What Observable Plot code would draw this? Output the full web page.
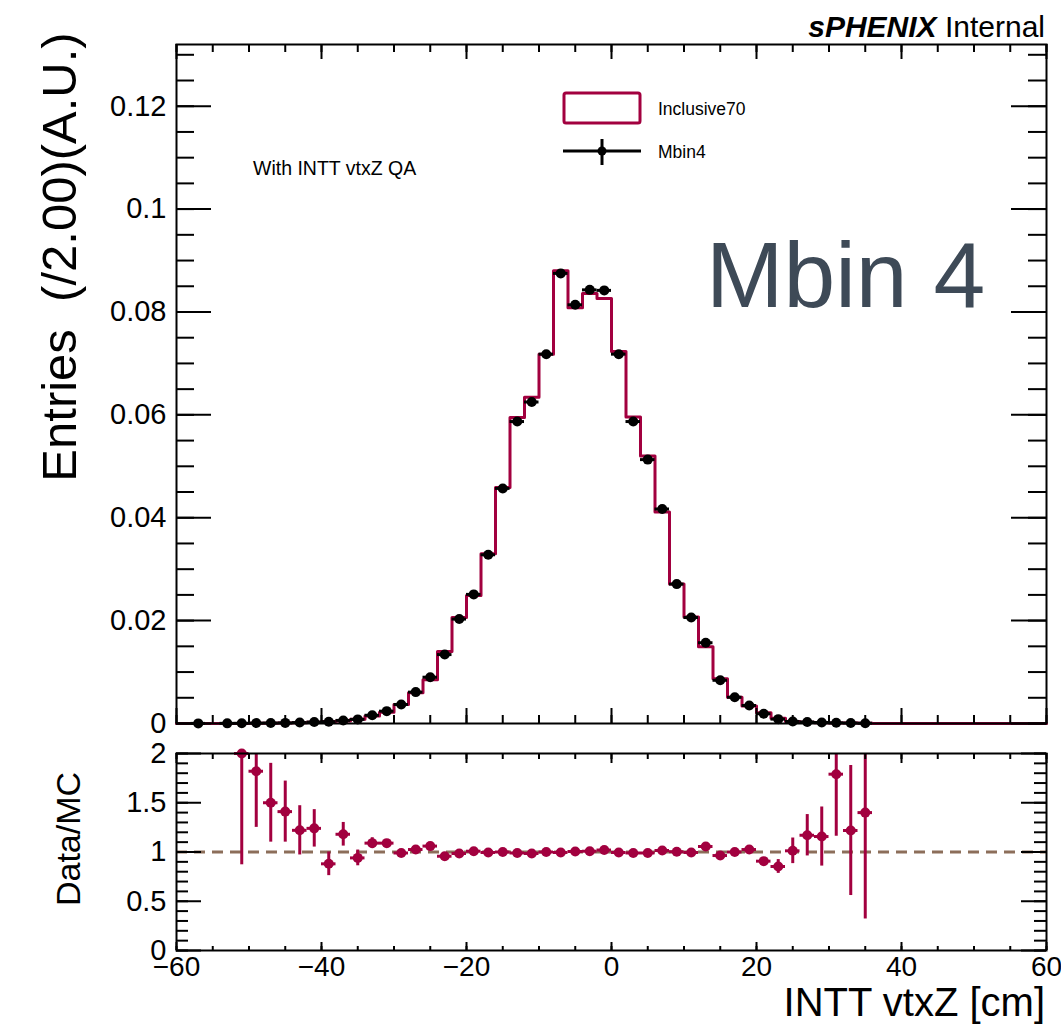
<!DOCTYPE html>
<html>
<head>
<meta charset="utf-8">
<script src="https://cdn.jsdelivr.net/npm/d3@7"></script>
<script src="https://cdn.jsdelivr.net/npm/@observablehq/plot@0.6"></script>
<style>
  body { margin: 0; background: #fff; }
  #wrap { position: relative; width: 1061px; height: 1026px; overflow: hidden; background: #fff;
          font-family: "Liberation Sans", Arial, Helvetica, sans-serif; }
  #wrap svg { position: absolute; left: 0; overflow: visible; }
</style>
</head>
<body>
<div id="wrap"></div>
<script>
// ---------------- data ----------------
// Mbin4 data points (bin centres, normalised entries)
const dataX = [-57, -53, -51, -49, -47, -45, -43, -41, -39, -37, -35, -33, -31, -29, -27, -25, -23, -21, -19, -17,
  -15, -13, -11, -9, -7, -5, -3, -1, 1, 3, 5, 7, 9, 11, 13, 15, 17, 19, 21, 23, 25, 27, 29, 31, 33, 35];
const dataY = [0.00002, 0.00003, 0.00004, 0.00008, 0.00010, 0.00012, 0.00018, 0.00028, 0.00035, 0.0006, 0.0008,
  0.0016, 0.0024, 0.0037, 0.0061, 0.0090, 0.0134, 0.0203, 0.0251, 0.0328,
  0.0457, 0.0587, 0.0625, 0.0718, 0.0875, 0.0814, 0.0843, 0.0842, 0.0718, 0.0587, 0.0513, 0.0417, 0.0271,
  0.0206, 0.0157, 0.0084, 0.0051, 0.0035, 0.0019, 0.00085, 0.0004, 0.0003, 0.0002, 0.00014, 0.0001, 0.00006];

// Inclusive70 histogram: bins of 2 cm from -60 to 60
const mcBinWidth = 2;
const mcValues = [0, 0, 0, 0, 0.00002, 0.000044, 0.000067, 0.000085, 0.00015, 0.00023, 0.0004, 0.00051, 0.00085,
  0.00147, 0.0022, 0.0037, 0.0060, 0.0085, 0.0140, 0.0206, 0.0249, 0.0330, 0.0459, 0.0595, 0.0634, 0.0718,
  0.0880, 0.0808, 0.0836, 0.0826, 0.0723, 0.0596, 0.0520, 0.0411, 0.0271, 0.0207, 0.0149, 0.0087, 0.0051,
  0.0034, 0.0021, 0.0010, 0.0004, 0.00026, 0.00017, 0.00008, 0.00008, 0.00004,
  0, 0, 0, 0, 0, 0, 0, 0, 0, 0, 0, 0];

// Data/MC ratio
const ratioX = [-51, -49, -47, -45, -43, -41, -39, -37, -35, -33, -31, -29, -27, -25, -23, -21, -19, -17, -15, -13,
  -11, -9, -7, -5, -3, -1, 1, 3, 5, 7, 9, 11, 13, 15, 17, 19, 21, 23, 25, 27, 29, 31, 33, 35];
const ratioY = [2.0, 1.82, 1.50, 1.41, 1.22, 1.24, 0.88, 1.18, 0.94, 1.09, 1.09, 0.99, 1.025, 1.06, 0.957, 0.985,
  1.008, 0.995, 1.0, 0.99, 0.985, 1.0, 0.995, 1.005, 1.008, 1.02, 0.995, 0.99, 0.99, 1.015, 1.003, 0.995,
  1.056, 0.964, 1.0, 1.025, 0.907, 0.853, 1.012, 1.17, 1.157, 1.79, 1.218, 1.40];
const ratioErr = [1.13, 0.57, 0.40, 0.31, 0.25, 0.19, 0.12, 0.12, 0.08, 0.055, 0.03, 0.02, 0.015, 0.012, 0.01, 0.008,
  0.006, 0.006, 0.006, 0.006, 0.006, 0.006, 0.006, 0.006, 0.006, 0.006, 0.006, 0.006, 0.006, 0.006, 0.006, 0.006,
  0.008, 0.008, 0.008, 0.01, 0.015, 0.07, 0.13, 0.21, 0.30, 0.63, 0.66, 1.08];

// axis ticks
const xMajorTicks = [-60, -40, -20, 0, 20, 40, 60];
const topYLabels = [0, 0.02, 0.04, 0.06, 0.08, 0.1, 0.12];
const botYLabels = [0, 0.5, 1, 1.5, 2];

// ---------------- layout / style ----------------
const crimson = "#a2003f";
const W = 1061;
const FL = 176, FR = 1046;
const topH = 740, topFT = 44, topFB = 723;
const botTop = 740, botH = 286, botFT = 753, botFB = 950;
const fw = FR - FL, topFH = topFB - topFT, botFH = botFB - botFT;
const fontFam = '"Liberation Sans", Arial, Helvetica, sans-serif';
const fmt = d3.format("~g");

const xMinorTicks = d3.range(-60, 60.001, 5);
const topYMinor = d3.range(0, 0.1301, 0.005);
const botYMinor = d3.range(0, 2.001, 0.1);

function frameTicks(fh, yMajor, yMinor, yMajLen, yMinLen, xMajLenB, xMinLenB, xMajLenT, xMinLenT) {
  const s = {stroke: "black", strokeWidth: 2};
  return [
    Plot.tickY(yMinor, {y: d => d, insetRight: fw - yMinLen, ...s}),
    Plot.tickY(yMajor, {y: d => d, insetRight: fw - yMajLen, ...s}),
    Plot.tickY(yMinor, {y: d => d, insetLeft: fw - yMinLen, ...s}),
    Plot.tickY(yMajor, {y: d => d, insetLeft: fw - yMajLen, ...s}),
    Plot.tickX(xMinorTicks, {x: d => d, insetTop: fh - xMinLenB, ...s}),
    Plot.tickX(xMajorTicks, {x: d => d, insetTop: fh - xMajLenB, ...s}),
    Plot.tickX(xMinorTicks, {x: d => d, insetBottom: fh - xMinLenT, ...s}),
    Plot.tickX(xMajorTicks, {x: d => d, insetBottom: fh - xMajLenT, ...s})
  ];
}

// tables built from arrays
const dataRows = dataX.map((x, i) => ({x, y: dataY[i]}));
const mcSteps = mcValues.map((v, i) => ({x: -60 + i * mcBinWidth, y: v}));
mcSteps.push({x: 60, y: mcValues[mcValues.length - 1]});
const ratioRows = ratioX.map((x, i) => ({x, y: ratioY[i], e: ratioErr[i]}));

// ---------------- top panel ----------------
const topPlot = Plot.plot({
  width: W, height: topH,
  marginTop: topFT, marginBottom: topH - topFB, marginLeft: FL, marginRight: W - FR,
  x: {domain: [-60, 60], axis: null},
  y: {domain: [0, 0.132]},
  style: {fontFamily: fontFam, background: "transparent", overflow: "visible"},
  marks: [
    Plot.line(mcSteps, {x: "x", y: "y", curve: "step-after", stroke: crimson, strokeWidth: 3}),
    Plot.ruleY(dataRows, {y: "y", x1: d => d.x - 1, x2: d => d.x + 1, stroke: "black", strokeWidth: 3}),
    Plot.dot(dataRows, {x: "x", y: "y", r: 5, fill: "black"}),
    ...frameTicks(topFH, topYLabels, topYMinor, 35, 18, 15, 8, 15, 8),
    Plot.frame({stroke: "black", strokeWidth: 2}),
    Plot.axisY(topYLabels, {tickSize: 0, tickPadding: 10, fontSize: 29, tickFormat: fmt, label: null})
  ]
});
topPlot.style.top = "0px";

// ---------------- bottom (ratio) panel ----------------
const botPlot = Plot.plot({
  width: W, height: botH,
  marginTop: botFT - botTop, marginBottom: botTop + botH - botFB, marginLeft: FL, marginRight: W - FR,
  x: {domain: [-60, 60]},
  y: {domain: [0, 2]},
  style: {fontFamily: fontFam, background: "transparent", overflow: "visible"},
  marks: [
    Plot.ruleY([1], {stroke: "#8c6e5a", strokeWidth: 3, strokeDasharray: "11,7"}),
    Plot.ruleX(ratioRows, {x: "x", y1: d => Math.max(0, d.y - d.e), y2: d => Math.min(2, d.y + d.e), stroke: crimson, strokeWidth: 3}),
    Plot.ruleY(ratioRows, {y: "y", x1: d => d.x - 1, x2: d => d.x + 1, stroke: crimson, strokeWidth: 3}),
    Plot.dot(ratioRows, {x: "x", y: "y", r: 5, fill: crimson}),
    ...frameTicks(botFH, botYLabels, botYMinor, 25, 12, 8, 4, 10, 6),
    Plot.frame({stroke: "black", strokeWidth: 2}),
    Plot.axisY(botYLabels, {tickSize: 0, tickPadding: 10, fontSize: 29, tickFormat: fmt, label: null}),
    Plot.axisX(xMajorTicks, {tickSize: 0, tickPadding: 6, fontSize: 28, tickFormat: fmt, label: null})
  ]
});
botPlot.style.top = botTop + "px";

const wrap = document.getElementById("wrap");
wrap.appendChild(topPlot);
wrap.appendChild(botPlot);

// ---------------- annotations ----------------
const ts = d3.select(topPlot);
const hdr = ts.append("text").attr("x", 1045).attr("y", 37).attr("text-anchor", "end")
  .attr("font-size", 30).attr("font-family", fontFam).attr("fill", "black");
hdr.append("tspan").attr("font-weight", "bold").attr("font-style", "italic").text("sPHENIX");
hdr.append("tspan").text(" Internal");

ts.append("text").attr("transform", "translate(76,257) rotate(-90)").attr("text-anchor", "middle")
  .attr("font-size", 49).attr("font-family", fontFam).style("white-space", "pre")
  .text("Entries  (/2.00)(A.U.)");

ts.append("text").attr("x", 253).attr("y", 175).attr("text-anchor", "start").attr("font-size", 19.5).attr("font-family", fontFam)
  .text("With INTT vtxZ QA");

ts.append("text").attr("x", 706).attr("y", 307).attr("text-anchor", "start").attr("font-size", 93).attr("font-family", fontFam)
  .attr("fill", "#3e4a57").text("Mbin 4");

// legend
ts.append("rect").attr("x", 564).attr("y", 93).attr("width", 76).attr("height", 30)
  .attr("fill", "white").attr("stroke", crimson).attr("stroke-width", 3).attr("rx", 2);
ts.append("text").attr("x", 658).attr("y", 115).attr("text-anchor", "start").attr("font-size", 17.5).attr("font-family", fontFam).text("Inclusive70");
ts.append("line").attr("x1", 563).attr("x2", 641).attr("y1", 151).attr("y2", 151).attr("stroke", "black").attr("stroke-width", 3);
ts.append("line").attr("x1", 602).attr("x2", 602).attr("y1", 139).attr("y2", 165).attr("stroke", "black").attr("stroke-width", 3);
ts.append("circle").attr("cx", 602).attr("cy", 151).attr("r", 4.5).attr("fill", "black");
ts.append("text").attr("x", 658).attr("y", 158).attr("text-anchor", "start").attr("font-size", 17.5).attr("font-family", fontFam).text("Mbin4");

const bs = d3.select(botPlot);
bs.append("text").attr("transform", `translate(80,${839 - botTop}) rotate(-90)`).attr("text-anchor", "middle")
  .attr("font-size", 34).attr("font-family", fontFam).text("Data/MC");
bs.append("text").attr("x", 1045).attr("y", 1016 - botTop).attr("text-anchor", "end")
  .attr("font-size", 40).attr("font-family", fontFam).text("INTT vtxZ [cm]");
</script>
</body>
</html>
